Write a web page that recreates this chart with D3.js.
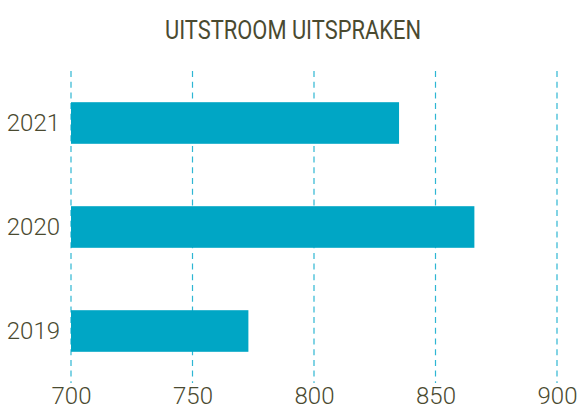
<!DOCTYPE html>
<html>
<head>
<meta charset="utf-8">
<script src="https://cdn.jsdelivr.net/npm/d3@7"></script>
<style>
  html, body { margin: 0; padding: 0; background: #fff; }
  svg { display: block; }
</style>
</head>
<body>
<div id="chart"></div>
<script>
// data
const years = ['2021', '2020', '2019'];
const outflow = [835, 866, 773];
const xTicks = [700, 750, 800, 850, 900];
const title = 'UITSTROOM UITSPRAKEN';

const width = 582;
const height = 407;
const textColor = '#4a4a30';
const barColor = '#00a6c5';
const gridColor = '#2eb6d3';

const svg = d3.select('#chart')
  .append('svg')
  .attr('width', width)
  .attr('height', height);

const x = d3.scaleLinear()
  .domain([700, 900])
  .range([71, 557]);

const y = d3.scaleBand()
  .domain(years)
  .range([71, 383])
  .paddingInner(0.6)
  .paddingOuter(0.3);

// title
svg.append('text')
  .attr('x', 293)
  .attr('y', 39)
  .attr('text-anchor', 'middle')
  .attr('font-family', 'Roboto, sans-serif')
  .attr('font-size', 26)
  .attr('textLength', 256)
  .attr('lengthAdjust', 'spacingAndGlyphs')
  .attr('fill', textColor)
  .text(title);

// dashed grid
svg.append('g')
  .selectAll('line')
  .data(xTicks)
  .enter()
  .append('line')
  .attr('x1', d => x(d))
  .attr('x2', d => x(d))
  .attr('y1', 71)
  .attr('y2', 383)
  .attr('stroke', gridColor)
  .attr('stroke-width', 1.2)
  .attr('stroke-dasharray', '6,4.7');

// bars
svg.append('g')
  .selectAll('rect')
  .data(years)
  .enter()
  .append('rect')
  .attr('x', x(700))
  .attr('y', d => y(d))
  .attr('width', (d, i) => x(outflow[i]) - x(700))
  .attr('height', y.bandwidth())
  .attr('fill', barColor);

// x axis labels
const xAxis = svg.append('g')
  .attr('transform', 'translate(0,383)')
  .call(d3.axisBottom(x).tickValues(xTicks).tickSize(0).tickPadding(4));
xAxis.select('.domain').remove();
xAxis.selectAll('text')
  .attr('font-family', 'Roboto, sans-serif')
  .attr('font-weight', 300)
  .attr('font-size', 24)
  .attr('fill', textColor);

// y axis labels
const yAxis = svg.append('g')
  .attr('transform', 'translate(71,0)')
  .call(d3.axisLeft(y).tickSize(0).tickPadding(11));
yAxis.select('.domain').remove();
yAxis.selectAll('text')
  .attr('font-family', 'Roboto, sans-serif')
  .attr('font-weight', 300)
  .attr('font-size', 24)
  .attr('fill', textColor);
</script>
</body>
</html>
